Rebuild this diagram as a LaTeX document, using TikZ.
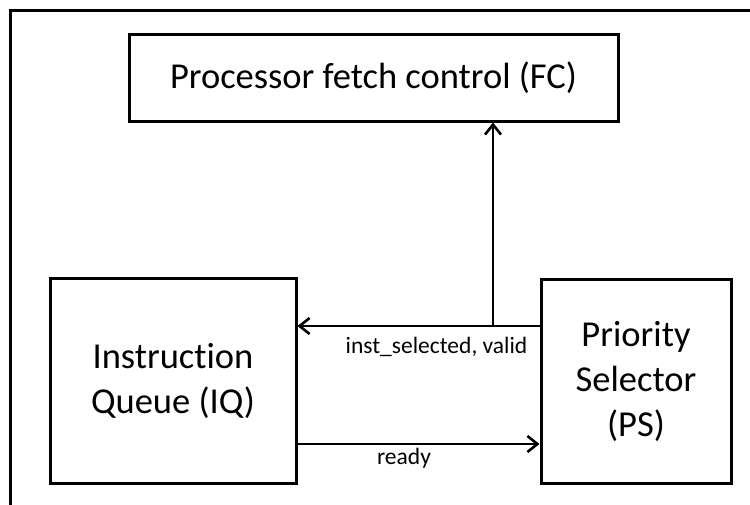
\documentclass[tikz,border=0pt]{standalone}
\usepackage{fontspec}
\setmainfont{Carlito}[Ligatures={NoCommon}]
\usetikzlibrary{arrows.meta}
\begin{document}
\begin{tikzpicture}[x=1pt,y=-1pt,
  blk/.style={draw=black, line width=3pt, inner sep=0pt, align=center,
    font=\fontsize{36.5}{45}\selectfont},
  arr/.style={draw=black, line width=2.8pt, -{Straight Barb[length=10pt,width=16pt,line width=2.6pt]}},
  lbl/.style={font=\fontsize{23.5}{28}\selectfont, inner sep=0pt, anchor=base}]
\useasboundingbox (0,0) rectangle (750,504);
\draw[line width=3pt] (10,510) -- (10,10) -- (760,10);
\node[blk, minimum width=489pt, minimum height=87pt] (FC) at (373.5,77.5) {Processor fetch control (FC)};
\node[blk, minimum width=246pt, minimum height=205pt] (IQ) at (173,380.5) {Instruction\\Queue (IQ)};
\node[blk, minimum width=190pt, minimum height=204pt] (PS) at (636,381) {Priority\\Selector\\(PS)};
\coordinate (ja) at (493,326);
\coordinate (rd) at (400,444);
\draw[arr] (PS.west |- ja) -- (IQ.east |- ja);
\draw[arr] (ja) -- (ja |- FC.south);
\draw[arr] (IQ.east |- rd) -- (PS.west |- rd);
\node[lbl] (l1) at (436.5,353) {inst\_selected, valid};
\node[lbl] (l2) at (404,464) {ready};
\end{tikzpicture}
\end{document}
